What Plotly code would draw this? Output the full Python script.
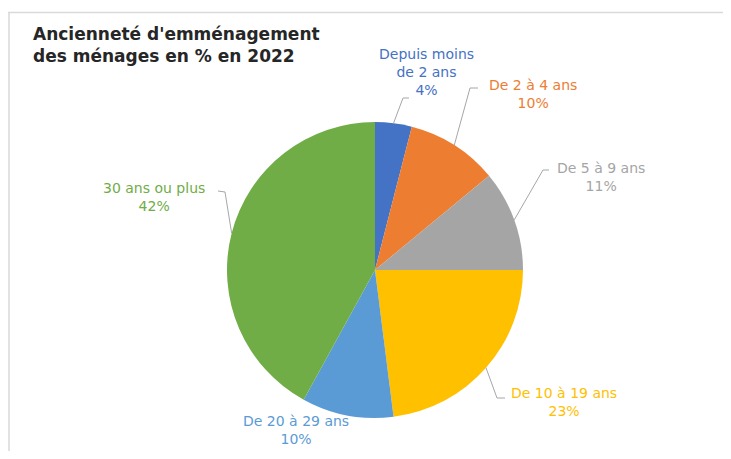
import math
import plotly.graph_objects as go

# ---- data ----
categories = ["Depuis moins<br>de 2 ans", "De 2 à 4 ans", "De 5 à 9 ans",
              "De 10 à 19 ans", "De 20 à 29 ans", "30 ans ou plus"]
values = [4, 10, 11, 23, 10, 42]
colors = ["#4472C4", "#ED7D31", "#A5A5A5", "#FFC000", "#5B9BD5", "#70AD47"]
title_text = "Ancienneté d'emménagement<br>des ménages en % en 2022"

# ---- layout constants (page pixels; the page body has an 8px margin) ----
OFF = 8
W, H = 731 - 2 * OFF, 459 - 2 * OFF
CX, CY, R = 375, 270, 148
# label centres (x, y middle) and leader-line elbow/end points
label_pos = [(426, 72), (533, 94), (601, 177), (564, 402), (296, 430), (154, 197)]
leader = [
    [(403, 98), (409, 98)],
    [(470, 88), (478, 88)],
    [(543, 170), (549, 170)],
    [(497, 398), (505, 398)],
    None,
    [(225, 192), (218, 191)],
]

def px(x):
    return (x - OFF) / W

def py(y):
    return 1 - (y - OFF) / H

fig = go.Figure()
fig.add_trace(go.Pie(
    labels=categories, values=values, sort=False, direction="clockwise",
    rotation=0, textinfo="none", hoverinfo="label+percent",
    marker=dict(colors=colors, line=dict(width=0)),
    domain=dict(x=[px(CX - R), px(CX + R)], y=[py(CY + R), py(CY - R)]),
    showlegend=False,
))

total = sum(values)
shapes = []
annotations = []
cum = 0
for i, v in enumerate(values):
    mid = (cum + v / 2) / total * 2 * math.pi
    cum += v
    ax = CX + R * math.sin(mid)
    ay = CY - R * math.cos(mid)
    pct = round(v / total * 100)
    lx, ly = label_pos[i]
    annotations.append(dict(
        x=px(lx), y=py(ly), xref="paper", yref="paper",
        text=f"{categories[i]}<br>{pct}%", showarrow=False,
        xanchor="center", yanchor="middle", align="center",
        font=dict(family="DejaVu Sans", size=14, color=colors[i]),
    ))
    if leader[i]:
        pts = [(ax, ay)] + leader[i]
        path = "M " + " L ".join(f"{px(x)},{py(y)}" for x, y in pts)
        shapes.append(dict(type="path", path=path, xref="paper", yref="paper",
                           line=dict(color="#A6A6A6", width=1)))

# frame lines
shapes.append(dict(type="line", xref="paper", yref="paper", x0=px(8), x1=1,
                   y0=py(12.5), y1=py(12.5), line=dict(color="#D9D9D9", width=1.5)))
shapes.append(dict(type="line", xref="paper", yref="paper", x0=px(9), x1=px(9),
                   y0=py(12.5), y1=0, line=dict(color="#D9D9D9", width=1.5)))

annotations.append(dict(
    x=px(31), y=py(22), xref="paper", yref="paper", text=f"<b>{title_text}</b>",
    showarrow=False, xanchor="left", yanchor="top", align="left",
    font=dict(family="DejaVu Sans", size=17, color="#262626"),
))

fig.update_layout(
    width=W, height=H, margin=dict(l=0, r=0, t=0, b=0),
    paper_bgcolor="white", plot_bgcolor="white",
    shapes=shapes, annotations=annotations,
)
fig.write_html("out.html")
